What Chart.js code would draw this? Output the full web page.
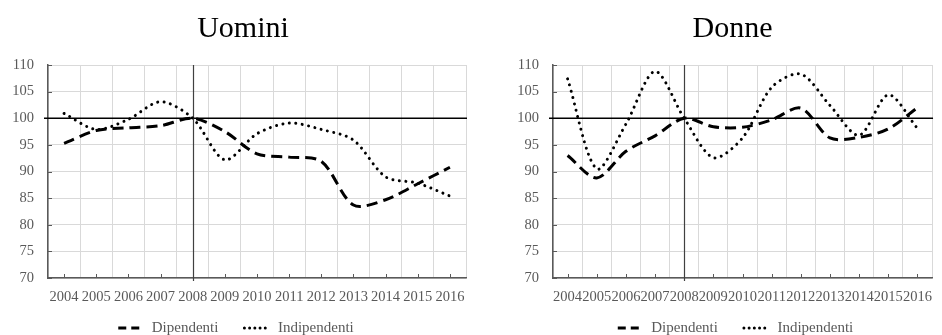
<!DOCTYPE html>
<html><head><meta charset="utf-8">
<script src="https://cdn.jsdelivr.net/npm/chart.js@4.4.0/dist/chart.umd.min.js"></script>
<style>
html,body{margin:0;padding:0;background:#fff;width:942px;height:335px;overflow:hidden}
canvas{position:absolute;top:0}
</style></head><body>
<canvas id="c1" width="480" height="335" style="left:0"></canvas>
<canvas id="c2" width="452" height="335" style="left:490px"></canvas>
<script>
const years = ['2004','2005','2006','2007','2008','2009','2010','2011','2012','2013','2014','2015','2016'];
const seriesNames = ['Dipendenti','Indipendenti'];
const titles = ['Uomini','Donne'];
const uominiDipendenti   = [95.3, 97.7, 98.2, 98.6, 100, 97.5, 93.3, 92.7, 91.9, 83.7, 84.7, 87.7, 90.8];
const uominiIndipendenti = [100.9, 97.9, 99.8, 103.1, 100, 92.2, 97.1, 99.1, 97.9, 95.9, 89.0, 87.8, 85.4];
const donneDipendenti    = [93.0, 88.8, 93.8, 96.7, 100, 98.4, 98.3, 99.7, 101.9, 96.3, 96.4, 98.0, 102.0];
const donneIndipendenti  = [107.4, 90.5, 98.9, 108.8, 100, 92.6, 96.3, 105.8, 108.3, 102.4, 96.8, 104.4, 98.1];
const yMin = 70, yMax = 110, yStep = 5;
const baseYear = '2008', baseValue = 100;

const FONT = 'Liberation Serif';
const LEGEND_CENTER_Y = 328;
const LEGEND_SHIFT = 3;
const legendDash = [[8, 5], [0.01, 5.2]];

const refPlugin = {
  id: 'refLines',
  afterLayout(chart, args, opts) {
    const lg = chart.legend;
    if (lg) {
      const p = lg.options.labels.padding;
      const fs = lg.options.labels.font.size;
      const h = lg.height;
      lg.top = LEGEND_CENTER_Y - p - fs / 2;
      lg.bottom = lg.top + h;
      lg.left += LEGEND_SHIFT;
      lg.right += LEGEND_SHIFT;
    }
    const tb = chart.titleBlock;
    if (tb && opts.titleShift) { tb.left += opts.titleShift; tb.right += opts.titleShift; }
    const x = chart.scales.x, y = chart.scales.y;
    x.bottom = x.top + 32;
    y.left = y.left - 45;
  },
  beforeDatasetsDraw(chart) {
    const {ctx, chartArea: a, scales: {x, y}} = chart;
    ctx.save();
    ctx.strokeStyle = '#595959';
    ctx.lineWidth = 1;
    y.ticks.forEach(t => {
      const py = Math.round(y.getPixelForValue(t.value)) + 0.5;
      ctx.beginPath(); ctx.moveTo(a.left, py); ctx.lineTo(a.left + 4, py); ctx.stroke();
    });
    x.ticks.forEach((t, i) => {
      const px = Math.round(x.getPixelForValue(i)) + 0.5;
      ctx.beginPath(); ctx.moveTo(px, a.bottom); ctx.lineTo(px, a.bottom - 4); ctx.stroke();
    });
    const py = y.getPixelForValue(baseValue);
    ctx.strokeStyle = '#000';
    ctx.lineWidth = 1.3;
    ctx.beginPath(); ctx.moveTo(a.left - 4, py); ctx.lineTo(a.right + 1, py); ctx.stroke();
    const px = Math.round(x.getPixelForValue(years.indexOf(baseYear))) + 0.5;
    ctx.strokeStyle = '#404040';
    ctx.lineWidth = 1.2;
    ctx.beginPath(); ctx.moveTo(px, a.top); ctx.lineTo(px, a.bottom + 3); ctx.stroke();
    ctx.restore();
  }
};

function makeChart(id, title, dip, ind, padLeft, padRight, yWidth, titleShift) {
  return new Chart(document.getElementById(id), {
    type: 'line',
    data: {
      labels: years,
      datasets: [
        {label: seriesNames[0], data: dip, borderColor: '#000', backgroundColor: '#000', borderWidth: 3,
         borderDash: [11, 6], borderCapStyle: 'butt', pointRadius: 0, tension: 0.3, fill: false},
        {label: seriesNames[1], data: ind, borderColor: '#000', backgroundColor: '#000', borderWidth: 3,
         borderDash: [0.01, 6.5], borderCapStyle: 'round', pointRadius: 0, tension: 0.3, fill: false}
      ]
    },
    options: {
      responsive: false, animation: false, devicePixelRatio: 1,
      layout: {padding: {left: padLeft, right: padRight, top: 0, bottom: 0}},
      plugins: {
        refLines: {titleShift: titleShift},
        title: {display: true, text: title, color: '#000',
                font: {family: FONT, size: 30, weight: 'normal'}, padding: {top: 11, bottom: 18}},
        legend: {position: 'bottom',
                 labels: {usePointStyle: true, pointStyle: 'line', pointStyleWidth: 26, color: '#595959',
                          font: {family: FONT, size: 15}, padding: 26,
                          generateLabels(chart) {
                            const items = Chart.defaults.plugins.legend.labels.generateLabels(chart);
                            items.forEach((it, i) => {
                              const ds = chart.data.datasets[it.datasetIndex];
                              it.lineDash = legendDash[i];
                              it.lineWidth = ds.borderWidth;
                              it.lineCap = ds.borderCapStyle;
                              it.strokeStyle = ds.borderColor;
                              it.fillStyle = ds.borderColor;
                              it.pointStyle = 'line';
                            });
                            return items;
                          }}},
        tooltip: {enabled: false}
      },
      scales: {
        x: {offset: true,
            grid: {offset: true, color: '#d9d9d9', drawTicks: false, lineWidth: 1},
            border: {color: '#595959', width: 1.5},
            ticks: {color: '#595959', font: {family: FONT, size: 14.5}, padding: 10, maxRotation: 0, autoSkip: false},
            afterFit(s) { s.height = 6; }},
        y: {min: yMin, max: yMax,
            grid: {color: '#d9d9d9', drawTicks: false},
            border: {color: '#595959', width: 1.5},
            ticks: {stepSize: yStep, color: '#595959', font: {family: FONT, size: 14.5}, padding: 14},
            afterFit(s) { s.width = yWidth; }}
      }
    },
    plugins: [refPlugin]
  });
}

makeChart('c1', titles[0], uominiDipendenti, uominiIndipendenti, 0, 14, 48, 10);
makeChart('c2', titles[1], donneDipendenti, donneIndipendenti, 34, 1, 29, 0);
</script>
</body></html>
